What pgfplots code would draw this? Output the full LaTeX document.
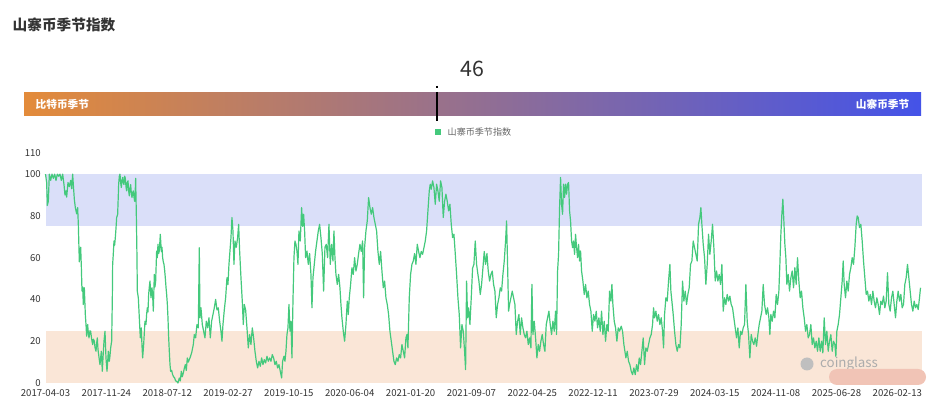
\documentclass[border=0pt]{standalone}
\usepackage{pgfplots}
\pgfplotsset{compat=1.18}
\usepackage{fontspec}
\setmainfont{Noto Sans CJK SC}
\definecolor{lineg}{RGB}{68,201,124}
\definecolor{bandblue}{RGB}{218,223,249}
\definecolor{bandorange}{RGB}{250,230,215}
\definecolor{barL}{RGB}{227,139,58}
\definecolor{barR}{RGB}{68,83,232}
\definecolor{txt}{RGB}{51,51,51}
\definecolor{smudge}{RGB}{241,196,182}
\begin{document}
\begin{tikzpicture}[x=0.75pt,y=0.75pt]
\path[use as bounding box, fill=white] (0,0) rectangle (943,403);
% title
\node[anchor=west, text=txt, font=\bfseries\fontsize{11}{13}\selectfont] at (8,378) {山寨币季节指数};
% value
\node[text=txt, font=\fontsize{16}{19}\selectfont] at (472,334) {46};
% gradient bar
\shade[left color=barL, right color=barR] (24,287) rectangle (921,310);
\node[anchor=west, text=white, font=\bfseries\fontsize{8}{10}\selectfont] at (31,298.5) {比特币季节};
\node[anchor=east, text=white, font=\bfseries\fontsize{8}{10}\selectfont] at (914,298.5) {山寨币季节};
\draw[black, line width=1.1pt, dash pattern=on 1.5 off 3 on 27 off 3 on 1.5] (437,317) -- (437,282);
% legend
\fill[lineg] (435,268) rectangle (441,274);
\node[anchor=west, text=txt!75, font=\fontsize{6.8}{8}\selectfont] at (443,271) {山寨币季节指数};
\begin{axis}[
  at={(34.125pt,15pt)}, anchor=south west,
  scale only axis, width=657pt, height=172.3pt,
  xmin=16.5, xmax=2645, ymin=0, ymax=110,
  axis line style={draw=none}, major tick length=0pt,
  xtick={16.5,199.07,381.64,564.21,746.78,929.35,1111.92,1294.49,1477.06,1659.63,1842.2,2024.77,2207.34,2389.91,2572.48},
  xticklabels={2017-04-03,2017-11-24,2018-07-12,2019-02-27,2019-10-15,2020-06-04,2021-01-20,2021-09-07,2022-04-25,2022-12-11,2023-07-29,2024-03-15,2024-11-08,2025-06-28,2026-02-13},
  ytick={0,20,40,60,80,100,110},
  tick label style={font=\fontsize{7.2}{8}\selectfont, text=txt},
  xticklabel style={yshift=-1.5pt},
  /pgf/number format/assume math mode=true,
  clip=false,
]
\fill[bandblue] (axis cs:16.5,75) rectangle (axis cs:2645,100);
\fill[bandorange] (axis cs:16.5,0) rectangle (axis cs:2645,25);
\addplot[lineg, line width=0.9pt, mark=none, line join=round] table {
x y
16.5 100
20 96
22 85
25 87
28 100
32 97
36 100
40 98
44 100
48 97
52 100
56 99
60 100
64 97
68 100
72 95
75 90
78 92
80 89
84 96
88 94
92 97
95 93
98 100
100 95
103 88
106 84
110 81
113 84
115 76
118 58
120 62
122 65
124 56
126 44
128 46
130 37.6
133 45.6
136 32.8
138 28
140 22.4
143 28
145 24
147 21.6
150 25
152 24.8
155 21
158 18.4
160 21
163 20
165 17
168 15.2
170 19
172 21.6
174 16
176 13.6
178 11
180 8.8
182 12
184 15.2
186 9
187 5.6
189 12
192 20
195 24.8
198 12
201 5.6
203 10
205 15.2
208 10.4
210 13
212 16.8
215 20
217 40
218 56.8
220 62
222 68
224 66
226 69.6
228 74
230 79.2
233 80.8
235 90
236 95.2
238 99
240 100
242 96
244 93.6
246 97
248 98.4
250 96
252 95
254 99
256 98
258 94
260 92
262 96
264 96.8
266 92
268 89.6
270 93
272 95
274 91
276 88.8
278 91
280 92
282 89
284 87
286 93
287 98
289 81
291 60
292 44
295 40.8
298 31.2
301 21.6
304 26.4
306 18
308 12
311 18.4
313 24
315 29.6
318 28
320 33
322 36
324 34
326 42.4
328 46
330 48.8
333 40.8
336 45.6
338 42
340 34.4
343 52
345 46
347 48.8
350 63.2
352 60
354 66.4
356 62
358 63.2
361 71.2
364 63
366 65
368 60
370 58
372 56.8
374 54
376 50.4
378 46
380 42.4
382 38
384 31.2
386 22
388 15.2
390 9
392 5.6
395 6
398 4
401 3
404 2.4
407 1
410 0.8
414 0
418 2.4
421 1
424 5.6
427 3
430 4.8
433 7
436 8.8
439 6
442 12
445 10
450 12
455 14.4
460 18.4
463 23.2
467 21.6
471 28
475 26.4
478 64.8
480 31.2
483 36
487 28
491 24.8
495 21.6
499 29.6
503 26.4
507 31.2
511 21.6
515 29.6
519 32.8
523 36
527 40
531 35
535 36
539 29.6
543 24.8
546 20
549 28
553 35
557 40.8
561 50.4
564 47.2
567 56.8
570 63.2
573 69.6
576 79.2
579 72.8
582 56.8
585 68
589 65
593 69.6
596 76
599 63.2
603 50.4
607 39
610 28
613 37.6
617 35
621 26.4
625 16.8
629 23.2
633 18.4
637 26.4
641 21.6
645 15.2
649 10.4
653 7.2
657 10.4
661 8
665 12
669 8.8
673 11.2
677 9.6
681 12.8
685 10.4
689 12
693 10.4
697 13.6
701 12
705 8.8
709 10.4
713 7.2
717 8.8
721 5.6
725 2.4
728 10.4
732 12.8
735 10.4
738 15.2
741 23.2
744 26.4
747 37.6
750 24.8
753 29.6
756 12
759 39
762 60
765 68
768 66.4
771 63.2
774 56.8
777 72.8
781 68
785 84
788 75
791 80.8
794 72.8
797 60
801 63.2
805 56.8
809 62
813 52
816 36
819 50.4
823 56.8
827 63.2
831 68
835 72.8
839 76
843 69.6
847 62
851 44
855 65
859 66.4
863 60
867 76
871 56.8
875 66.4
879 58.4
882 72.8
885 60
888 52
892 47.2
896 52
900 45.6
903 37.6
906 31.2
910 24.8
914 20
918 28
922 39.2
925 32.8
928 40.8
932 47.2
936 55.2
940 52
944 60
948 53.6
952 56.8
956 62
960 66.4
964 63
968 68
971 40.8
974 65
978 72.8
982 77.6
986 88.8
990 84
994 80.8
998 84
1002 79.2
1006 76
1010 72.8
1014 63
1018 56.8
1022 63
1026 53.6
1030 45.6
1034 48.8
1038 40.8
1042 37.6
1046 32.8
1050 24.8
1054 20
1058 15.2
1062 10.4
1066 8.8
1070 12
1074 10.4
1078 13.6
1082 12
1086 18.4
1090 15.2
1094 12
1098 21.6
1101 23.2
1104 16.8
1108 40.8
1112 52
1116 56.8
1120 58.4
1124 62
1128 56.8
1132 66.4
1136 63
1140 60
1144 63
1148 61.6
1152 64.8
1156 68
1160 72.8
1164 82.4
1168 92
1171 95.2
1174 92.8
1178 96.8
1182 93.6
1186 85.6
1190 95.2
1194 92
1198 87
1202 96.8
1206 93.6
1210 79.2
1214 87
1218 90.4
1222 87
1226 82.4
1230 85.6
1234 76
1238 69.6
1242 71.2
1246 62
1250 52
1254 40.8
1258 32.8
1262 16.8
1266 28
1270 24.8
1274 15.2
1277 6.4
1280 48.8
1283 31.2
1286 36
1290 28
1294 40.8
1298 55
1302 56.8
1306 68
1310 56.8
1314 52
1317 48.8
1321 42.4
1325 47.2
1329 55
1333 63
1337 56.8
1341 62
1345 53.6
1349 48.8
1353 52
1357 53.6
1361 47.2
1365 44
1369 31.2
1373 37.6
1377 40.8
1381 45.6
1385 44
1389 52
1393 58.4
1397 68
1400 77.6
1403 56.8
1406 34.4
1409 37.6
1413 40.8
1417 44
1421 40.8
1425 37.6
1429 23.2
1433 29.6
1437 32.8
1441 23.2
1445 31.2
1449 26.4
1453 23.2
1457 21.6
1461 24.8
1465 18.4
1469 21.6
1473 16.8
1476 47.2
1479 23.2
1483 29.6
1487 21.6
1491 12
1495 18.4
1499 15.2
1503 20
1507 23.2
1511 18.4
1515 15.2
1519 28
1523 31.2
1527 34.4
1531 28
1535 23.2
1539 29.6
1543 24.8
1547 34.4
1550 23.2
1553 53.6
1556 61.6
1559 84
1562 98.4
1565 85.6
1568 80.8
1571 95.2
1574 88.8
1577 95.2
1580 90.4
1583 95.2
1586 96
1589 82.4
1592 77.6
1595 68
1598 64.8
1601 68
1604 61.6
1607 71.2
1610 64.8
1613 60
1616 66.4
1619 58.4
1622 63.2
1625 53.6
1629 48.8
1633 42.4
1637 47.2
1641 40.8
1645 44
1649 37.6
1653 34.4
1657 24.8
1661 32.8
1665 29.6
1669 34.4
1673 26.4
1677 31.2
1681 24.8
1685 34.4
1689 23.2
1693 29.6
1697 20
1701 28
1705 24.8
1709 44
1713 39.2
1716 47.2
1719 37.6
1723 29.6
1727 26.4
1731 20
1735 26.4
1739 24.8
1744 27.2
1748 24.8
1752 18.4
1755 15.2
1758 12
1762 15.2
1766 10.4
1770 8.8
1774 5.6
1778 4
1782 7.2
1786 4
1790 8.8
1794 5.6
1798 12
1802 8.8
1806 15.2
1810 21.6
1814 8.8
1818 16.8
1822 15.2
1826 18.4
1830 21.6
1834 23.2
1838 28
1841 36
1844 31.2
1848 34.4
1852 29.6
1856 32.8
1860 28
1864 31.2
1868 24.8
1871 16.8
1874 32.8
1878 40.8
1882 39.2
1886 48.8
1890 56.8
1893 44
1896 39.2
1900 32.8
1904 24.8
1908 18.4
1912 15.2
1916 18.4
1920 16.8
1924 28
1928 48.8
1932 39.2
1936 44
1940 37.6
1944 42.4
1948 45.6
1952 56.8
1956 58.4
1960 68
1964 64.8
1968 61.6
1972 58.4
1976 76
1980 79.2
1983 84
1986 76
1990 66.4
1994 60
1998 47.2
2002 56.8
2006 71.2
2010 61.6
2014 68
2018 76
2022 64.8
2026 48.8
2030 53.6
2034 48.8
2038 52
2042 47.2
2046 56.8
2050 34.4
2054 40.8
2058 37.6
2062 42.4
2066 39.2
2070 41.6
2074 37.6
2078 36
2082 31.2
2086 26.4
2090 21.6
2094 26.4
2098 16.8
2102 24.8
2106 23.2
2110 26.4
2114 28
2118 47.2
2122 29.6
2126 23.2
2130 12
2134 23.2
2138 20
2142 18.4
2146 21.6
2150 17.6
2154 23.2
2158 28
2162 31.2
2166 34.4
2170 47.2
2174 37.6
2179 32.8
2183 36
2187 31.2
2190 23.2
2193 32.8
2197 29.6
2201 34.4
2205 31.2
2209 42.4
2213 37.6
2217 44
2220 56.8
2223 71.2
2226 80.8
2229 88
2232 77.6
2235 66.4
2238 60
2241 47.2
2245 52
2249 44
2253 50.4
2257 53.6
2261 45.6
2265 55.2
2269 47.2
2273 60
2277 48.8
2281 40.8
2285 44
2289 36
2293 31.2
2297 24.8
2301 28
2305 21.6
2309 23.2
2313 28
2317 18.4
2321 21.6
2325 16.8
2329 20
2333 15.2
2337 21.6
2341 15.2
2345 20
2349 14.4
2353 31.2
2357 18.4
2361 24.8
2365 15.2
2369 20
2373 23.2
2377 15.2
2381 20
2385 18.4
2388 12.8
2391 24.8
2395 28
2399 32.8
2403 40.8
2407 48.8
2410 58.4
2413 47.2
2417 40.8
2421 48.8
2425 44
2429 52
2433 55.2
2437 60
2441 56.8
2445 64.8
2449 76
2452 80
2455 79.2
2459 74.4
2463 76
2467 68
2471 58.4
2475 50.4
2479 42.4
2483 44
2487 39.2
2491 42.4
2495 37.6
2499 44
2503 39.2
2507 36
2511 40.8
2515 37.6
2519 32.8
2523 39.2
2527 37.6
2531 41.6
2535 36
2539 39.2
2543 52.8
2547 37.6
2551 34.4
2555 40.8
2559 44
2563 37.6
2567 31.2
2571 39.2
2575 44
2579 39.2
2583 42.4
2587 36
2591 37.6
2595 47.2
2599 50.4
2603 56.8
2607 50.4
2611 44
2615 37.6
2619 34.4
2623 39.2
2627 36
2631 37.6
2635 35.2
2639 40.8
2642 45.6
};
\end{axis}
% watermark and smudge
\fill[gray!50] (807,39) circle (6.5);
\node[text=gray!65, font=\fontsize{10}{12}\selectfont] at (849,39) {coinglass};
\fill[smudge, rounded corners=6pt] (829,18) rectangle (926,34);
\end{tikzpicture}
\end{document}
